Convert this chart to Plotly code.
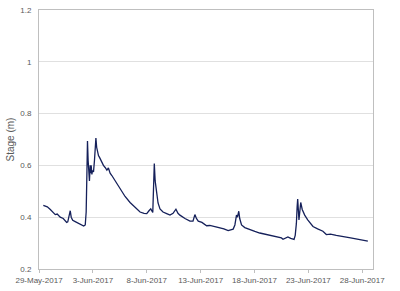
import plotly.graph_objects as go

times = [
    "2017-05-29 09:36", "2017-05-29 18:30", "2017-05-30 01:12", "2017-05-30 07:40",
    "2017-05-30 12:15", "2017-05-30 16:35", "2017-05-30 23:15", "2017-05-31 06:00",
    "2017-05-31 10:35", "2017-05-31 13:40", "2017-05-31 16:05", "2017-05-31 19:25",
    "2017-05-31 21:35", "2017-05-31 23:45", "2017-06-01 03:05", "2017-06-01 08:40",
    "2017-06-01 15:20", "2017-06-01 22:05", "2017-06-02 03:35", "2017-06-02 07:00",
    "2017-06-02 09:05", "2017-06-02 10:50", "2017-06-02 12:00", "2017-06-02 13:25",
    "2017-06-02 14:40", "2017-06-02 16:20", "2017-06-02 18:00", "2017-06-02 19:10",
    "2017-06-02 20:10", "2017-06-02 21:50", "2017-06-02 23:00", "2017-06-03 01:25",
    "2017-06-03 03:35", "2017-06-03 05:00", "2017-06-03 06:45", "2017-06-03 08:25",
    "2017-06-03 10:35", "2017-06-03 12:30", "2017-06-03 15:05", "2017-06-03 18:30",
    "2017-06-03 23:30", "2017-06-04 03:20", "2017-06-04 07:10", "2017-06-04 10:35",
    "2017-06-04 14:25", "2017-06-04 18:15", "2017-06-05 01:25", "2017-06-05 12:45",
    "2017-06-05 23:45", "2017-06-06 10:50", "2017-06-06 21:50", "2017-06-07 09:05",
    "2017-06-07 18:00", "2017-06-08 00:00", "2017-06-08 05:00", "2017-06-08 08:55",
    "2017-06-08 13:25", "2017-06-08 15:05", "2017-06-08 16:50", "2017-06-08 18:45",
    "2017-06-08 22:20", "2017-06-09 01:10", "2017-06-09 05:30", "2017-06-09 12:15",
    "2017-06-09 20:25", "2017-06-10 03:50", "2017-06-10 10:35", "2017-06-10 17:00",
    "2017-06-10 21:35", "2017-06-11 01:55", "2017-06-11 13:10", "2017-06-12 00:15",
    "2017-06-12 07:00", "2017-06-12 11:15", "2017-06-12 14:40", "2017-06-12 18:45",
    "2017-06-13 02:55", "2017-06-13 13:25", "2017-06-13 20:40", "2017-06-14 07:40",
    "2017-06-14 19:00", "2017-06-15 03:50", "2017-06-15 13:25", "2017-06-15 19:25",
    "2017-06-16 00:30", "2017-06-16 04:20", "2017-06-16 07:55", "2017-06-16 10:05",
    "2017-06-16 13:00", "2017-06-16 15:05", "2017-06-16 19:10", "2017-06-17 02:25",
    "2017-06-17 13:25", "2017-06-18 00:45", "2017-06-18 11:45", "2017-06-18 22:50",
    "2017-06-19 09:50", "2017-06-19 21:05", "2017-06-20 06:00", "2017-06-20 12:00",
    "2017-06-20 15:35", "2017-06-20 19:10", "2017-06-21 02:25", "2017-06-21 08:40",
    "2017-06-21 16:05", "2017-06-21 18:45", "2017-06-21 21:20", "2017-06-21 23:00",
    "2017-06-22 00:15", "2017-06-22 03:05", "2017-06-22 05:15", "2017-06-22 07:00",
    "2017-06-22 10:20", "2017-06-22 15:50", "2017-06-22 22:35", "2017-06-23 10:20",
    "2017-06-23 20:40", "2017-06-24 08:25", "2017-06-24 16:05", "2017-06-25 01:25",
    "2017-06-25 14:10", "2017-06-25 23:45", "2017-06-26 12:30", "2017-06-26 22:05",
    "2017-06-27 10:35", "2017-06-27 22:35", "2017-06-28 12:30",
]

stage_m = [
    0.446, 0.440, 0.430, 0.420,
    0.410, 0.412, 0.400, 0.395,
    0.388, 0.380, 0.382, 0.410,
    0.425, 0.400, 0.388, 0.383,
    0.376, 0.372, 0.366, 0.370,
    0.420, 0.580, 0.694, 0.620,
    0.580, 0.540, 0.600, 0.570,
    0.600, 0.565, 0.580, 0.575,
    0.620, 0.690, 0.706, 0.670,
    0.650, 0.638, 0.630, 0.615,
    0.600, 0.592, 0.582, 0.590,
    0.570, 0.561, 0.540, 0.507,
    0.480, 0.457, 0.437, 0.420,
    0.415, 0.414, 0.425, 0.432,
    0.418, 0.500, 0.607, 0.540,
    0.488, 0.455, 0.432, 0.420,
    0.414, 0.408, 0.415, 0.431,
    0.415, 0.408, 0.395, 0.385,
    0.385, 0.410, 0.395, 0.385,
    0.380, 0.367, 0.368, 0.364,
    0.360, 0.355, 0.348, 0.350,
    0.354, 0.370, 0.408, 0.400,
    0.423, 0.395, 0.370, 0.360,
    0.352, 0.345, 0.339, 0.334,
    0.330, 0.325, 0.322, 0.320,
    0.315, 0.318, 0.324, 0.318,
    0.314, 0.330, 0.376, 0.440,
    0.470, 0.389, 0.430, 0.457,
    0.430, 0.408, 0.390, 0.364,
    0.355, 0.346, 0.333, 0.335,
    0.330, 0.326, 0.323, 0.320,
    0.317, 0.313, 0.308,
]

y_ticks = [0.2, 0.4, 0.6, 0.8, 1.0, 1.2]

fig = go.Figure()
fig.add_trace(go.Scatter(
    x=times, y=stage_m, mode="lines",
    line=dict(color="#15205a", width=1.3),
    showlegend=False,
))

font_col = "#595959"
fig.update_layout(
    width=400, height=291,
    margin=dict(l=39, r=27, t=6, b=17),
    paper_bgcolor="white", plot_bgcolor="white",
    font=dict(family="Liberation Sans, Arial, sans-serif", size=8, color=font_col),
    xaxis=dict(
        type="date",
        range=["2017-05-29", "2017-06-29"],
        tick0="2017-05-29", dtick=5 * 86400000,
        tickformat="%-d-%b-%Y",
        showgrid=False,
        showline=True, linecolor="#bfbfbf", linewidth=1, mirror=True,
        ticks="outside", ticklen=3, tickcolor="#bfbfbf",
        tickfont=dict(size=8, color=font_col),
        zeroline=False,
    ),
    yaxis=dict(
        range=[0.2, 1.2],
        tickvals=y_ticks,
        showgrid=True, gridcolor="#e0e0e0", gridwidth=1,
        showline=True, linecolor="#bfbfbf", linewidth=1, mirror=True,
        ticks="", ticklabelstandoff=5,
        tickfont=dict(size=8, color=font_col),
        title=dict(text="Stage (m)", font=dict(size=10, color=font_col), standoff=3),
        zeroline=False,
    ),
)

fig.write_html("out.html")
